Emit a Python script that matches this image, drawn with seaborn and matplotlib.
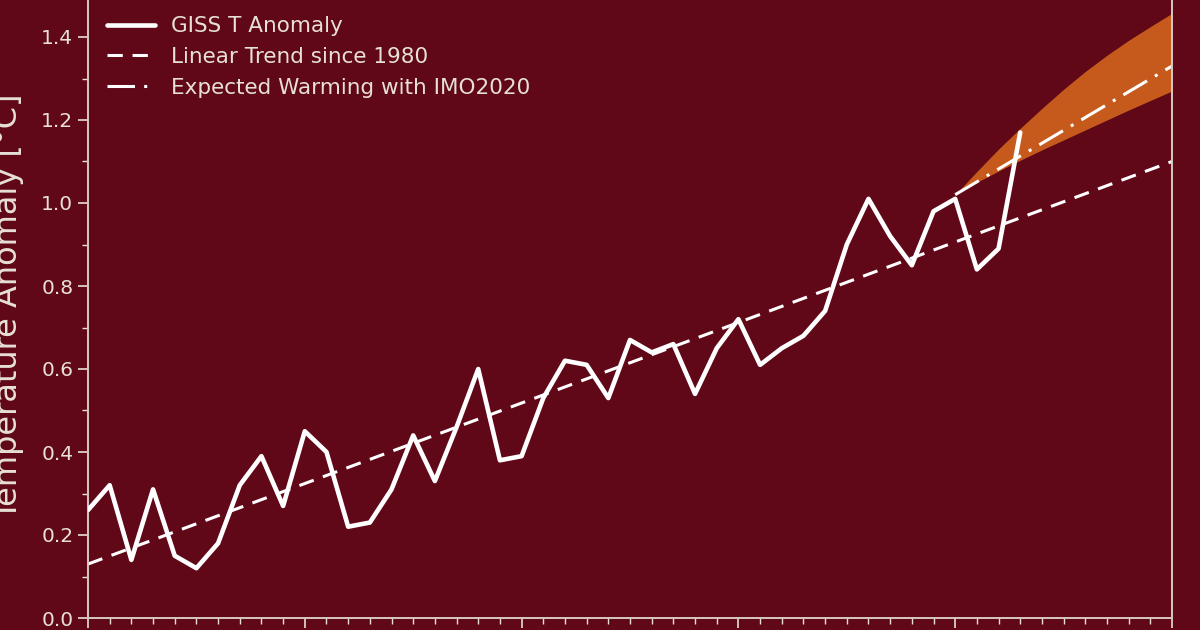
import numpy as np
import pandas as pd
import matplotlib
matplotlib.use("Agg")
import matplotlib.pyplot as plt
import seaborn as sns
from matplotlib.ticker import MultipleLocator

# ---- data ----
years = list(range(1980, 2024))
giss_anomaly = [0.26, 0.32, 0.14, 0.31, 0.15, 0.12, 0.18, 0.32, 0.39, 0.27,
                0.45, 0.40, 0.22, 0.23, 0.31, 0.44, 0.33, 0.46, 0.60, 0.38,
                0.39, 0.53, 0.62, 0.61, 0.53, 0.67, 0.64, 0.66, 0.54, 0.65,
                0.72, 0.61, 0.65, 0.68, 0.74, 0.90, 1.01, 0.92, 0.85, 0.98,
                1.01, 0.84, 0.89, 1.17]
trend_years = [1980, 2030]
trend_values = [0.13, 1.10]
proj_years = list(range(2020, 2031))
proj_central = [1.02, 1.051, 1.082, 1.113, 1.144, 1.175, 1.206, 1.237, 1.268, 1.299, 1.33]
proj_upper = [1.02, 1.076, 1.13, 1.18, 1.228, 1.274, 1.317, 1.356, 1.392, 1.425, 1.457]
proj_lower = [1.02, 1.05, 1.077, 1.103, 1.128, 1.152, 1.176, 1.2, 1.224, 1.247, 1.27]

BG = "#600818"
FG = "#e8e0d8"
ORANGE = "#c65a1c"

sns.set_theme(style="ticks")
plt.rcParams["font.family"] = ["DejaVu Sans"]

fig = plt.figure(figsize=(12, 6.3), dpi=100, facecolor=BG)
ax = fig.add_axes([88 / 1200, 12 / 630, 1084 / 1200, 622.5 / 630])
ax.set_facecolor(BG)

df_obs = pd.DataFrame({"year": years, "anomaly": giss_anomaly})
df_trend = pd.DataFrame({"year": trend_years, "anomaly": trend_values})
df_proj = pd.DataFrame({"year": proj_years, "central": proj_central,
                        "upper": proj_upper, "lower": proj_lower})

ax.fill_between(df_proj["year"], df_proj["lower"], df_proj["upper"],
                color=ORANGE, linewidth=0, zorder=1)
sns.lineplot(data=df_obs, x="year", y="anomaly", ax=ax, color="white",
             linewidth=3.3, label="GISS T Anomaly", zorder=3)
sns.lineplot(data=df_trend, x="year", y="anomaly", ax=ax, color="white",
             linewidth=2.2, linestyle=(0, (5, 3.2)),
             label="Linear Trend since 1980", zorder=2)
sns.lineplot(data=df_proj, x="year", y="central", ax=ax, color="white",
             linewidth=2.2, linestyle=(0, (9, 3, 1, 3)),
             label="Expected Warming with IMO2020", zorder=2)

ax.set_xlim(1980, 2030)
ax.set_ylim(0, 1.5)
ax.xaxis.set_major_locator(MultipleLocator(10))
ax.xaxis.set_minor_locator(MultipleLocator(1))
ax.yaxis.set_major_locator(MultipleLocator(0.2))
ax.yaxis.set_minor_locator(MultipleLocator(0.1))
ax.tick_params(axis="both", which="major", colors=FG, labelcolor=FG,
               labelsize=14.5, length=7, width=1.2, direction="out")
ax.tick_params(axis="both", which="minor", colors=FG, length=4, width=1.0,
               direction="out")
ax.tick_params(axis="x", labelbottom=False)
ax.set_yticklabels([f"{v:.1f}" for v in ax.get_yticks()])
ax.set_xlabel("")
ax.set_ylabel("Temperature Anomaly [°C]", color=FG, fontsize=23)
ax.yaxis.set_label_coords(-0.059, 0.5)
for side in ["left", "right", "bottom", "top"]:
    ax.spines[side].set_color("#d8c8c4")
    ax.spines[side].set_linewidth(1.4)
    ax.spines[side].set_visible(True)

leg = ax.legend(loc="upper left", bbox_to_anchor=(0.0, 0.998), frameon=False,
                fontsize=15.5, labelcolor=FG, handlelength=2.2,
                handletextpad=0.75, labelspacing=0.5, borderaxespad=0.5)

fig.savefig("out.png", dpi=100, facecolor=BG)
